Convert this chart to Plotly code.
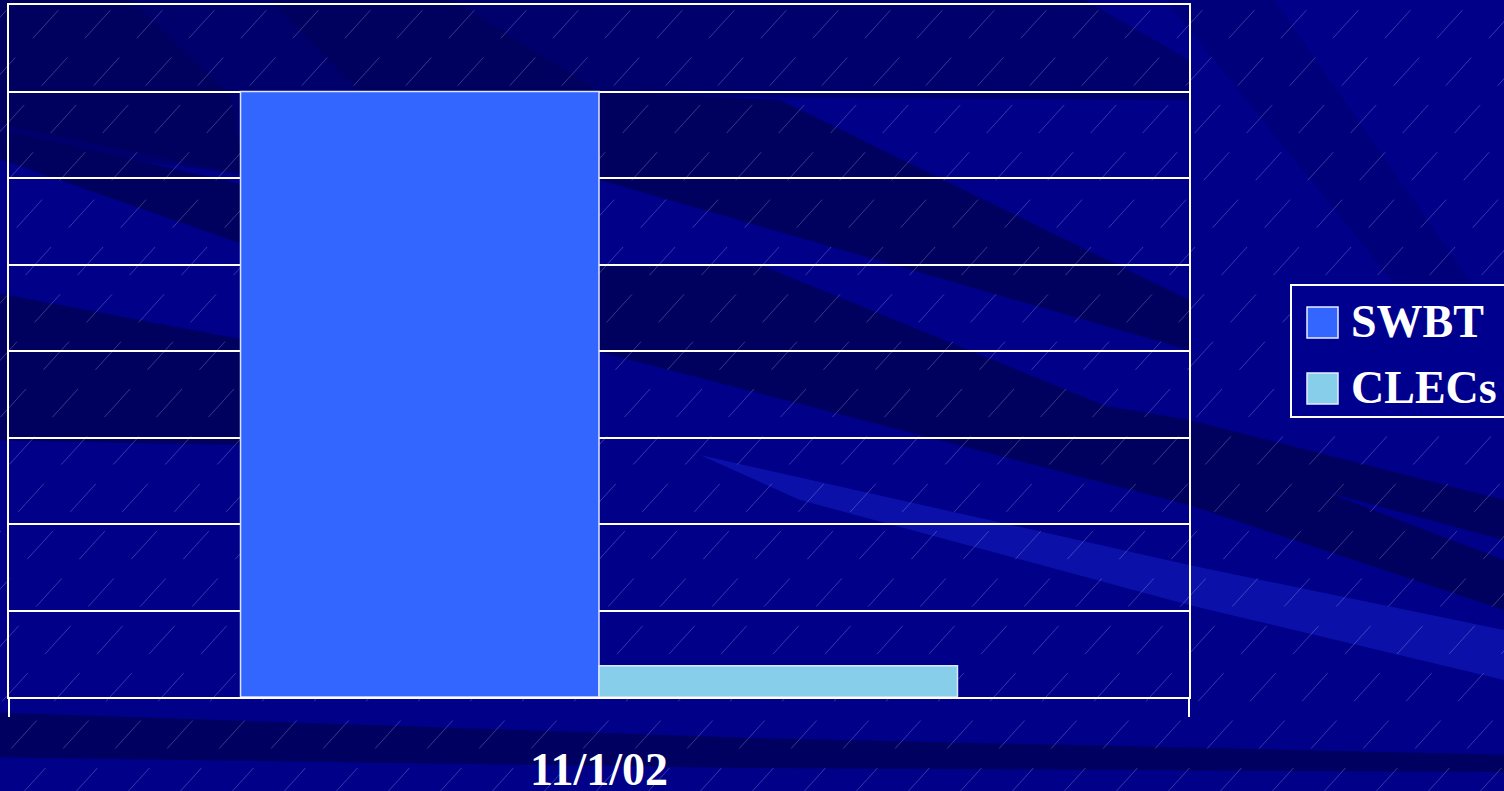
import plotly.graph_objects as go

# ---- data ----
categories = ["11/1/02"]
series_names = ["SWBT", "CLECs"]
swbt_values = [7.0]
clec_values = [0.36]
y_max = 8
series_colors = ["#3366FF", "#87CEEB"]

W, H = 1504, 791
L, R, T, B = 9, 1189, 5, 697  # plot area in pixels


def px(x):
    return (x - L) / (R - L)


def py(y):
    return (B - y) / (B - T)


def poly(points, color):
    d = "M " + " L ".join(f"{px(x):.5f},{py(y):.5f}" for x, y in points) + " Z"
    return dict(type="path", xref="paper", yref="paper", path=d,
                fillcolor=color, line=dict(width=0), layer="below")


fig = go.Figure()
fig.add_trace(go.Bar(name=series_names[0], x=categories, y=swbt_values,
                     marker=dict(color=series_colors[0], line=dict(color="#dde4ff", width=1.5))))
fig.add_trace(go.Bar(name=series_names[1], x=categories, y=clec_values,
                     marker=dict(color=series_colors[1], line=dict(color="#dde4ff", width=1.5))))

shapes = []
dark = "#00005e"
mid = "#00006c"
# background streaks
shapes.append(poly([(-20, -20), (250, -20), (1050, -20), (1189, 60), (1189, 100),
                    (600, 96), (360, 92), (245, 100), (245, 175), (-20, 140)], mid))
shapes.append(poly([(-20, -20), (110, -20), (230, 95), (245, 175), (-20, 120)], dark))
shapes.append(poly([(250, -20), (420, -20), (600, 92), (360, 92)], dark))
shapes.append(poly([(-20, 125), (245, 185), (245, 245), (-20, 152)], dark))
shapes.append(poly([(-20, 290), (245, 340), (245, 445), (-20, 440)], dark))
shapes.append(poly([(600, 92), (780, 100), (1189, 300), (1189, 350), (600, 180)], dark))
shapes.append(poly([(600, 265), (760, 265), (1189, 440), (1504, 560), (1504, 610),
                    (1189, 505), (600, 352)], dark))
shapes.append(poly([(1040, 395), (1189, 420), (1504, 500), (1504, 540), (1189, 455)], dark))
shapes.append(poly([(1150, -20), (1260, -20), (1504, 330), (1504, 420)], "#00007a"))
shapes.append(poly([(700, 455), (1189, 565), (1504, 630), (1504, 680), (1189, 605),
                    (800, 500)], "#0b10a8"))
shapes.append(poly([(-20, 712), (752, 738), (1520, 755), (1520, 772), (752, 768), (-20, 757)], "#000060"))

# faint diagonal hatching
slope = 1.1
x0 = -760
while x0 < W + 40:
    shapes.append(dict(type="line", xref="paper", yref="paper",
                       x0=px(x0), y0=py(H + 5), x1=px(x0 + (H + 10) / slope), y1=py(-5),
                       line=dict(color="rgba(200,205,255,0.28)", width=1, dash="38px,26px"),
                       layer="below"))
    x0 += 52

# custom legend
shapes.append(dict(type="rect", xref="paper", yref="paper",
                   x0=px(1291), y0=py(417), x1=px(1520), y1=py(285),
                   line=dict(color="white", width=2), fillcolor="#00008e", layer="above"))
annotations = []
rows = [(307, 338), (373, 404)]
for name, color, (y0, y1) in zip(series_names, series_colors, rows):
    shapes.append(dict(type="rect", xref="paper", yref="paper",
                       x0=px(1307), y0=py(y1), x1=px(1338), y1=py(y0),
                       line=dict(color="#e8ecff", width=1.5), fillcolor=color, layer="above"))
    annotations.append(dict(xref="paper", yref="paper", x=px(1349), y=py((y0 + y1) / 2 - 1),
                            xanchor="left", yanchor="middle", showarrow=False,
                            text=f"<b>{name}</b>",
                            font=dict(family="Liberation Serif", size=46, color="white")))

fig.update_layout(
    width=W, height=H,
    margin=dict(l=L, r=W - R, t=T, b=H - B, pad=0, autoexpand=False),
    paper_bgcolor="#000088",
    plot_bgcolor="rgba(0,0,0,0)",
    barmode="group", bargap=0.3924, bargroupgap=0,
    showlegend=False,
    shapes=shapes,
    annotations=annotations,
    font=dict(family="Liberation Serif", color="white"),
)
fig.update_xaxes(type="category", range=[-0.5, 0.5], showgrid=False, automargin=False,
                 showline=True, mirror=True, linecolor="white", linewidth=2,
                 ticks="outside", tickson="boundaries", ticklen=18, tickwidth=2, tickcolor="white",
                 tickfont=dict(family="Liberation Serif", size=46, color="white", weight="bold"),
                 ticklabelstandoff=31)
fig.update_yaxes(range=[0, y_max], dtick=1, showgrid=True, gridcolor="white", gridwidth=2,
                 automargin=False,
                 showline=True, mirror=True, linecolor="white", linewidth=2,
                 showticklabels=False, ticks="", zeroline=False)

fig.write_html("out.html", config={"displayModeBar": False},
               post_script="document.body.style.margin='0';document.body.style.overflow='hidden';")
